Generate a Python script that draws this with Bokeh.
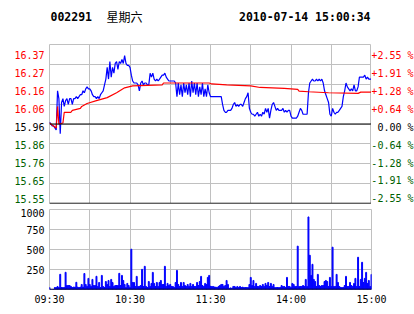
from bokeh.plotting import figure
from bokeh.models import FixedTicker, Span, Range1d
from bokeh.layouts import column, row
from bokeh.embed import file_html
from bokeh.resources import INLINE
from bokeh.core.properties import value

# ---------------- data ----------------
stock_code = "002291"
weekday = "星期六"
timestamp = "2010-07-14 15:00:34"
prev_close = 15.96

pct_levels = [2.55, 1.91, 1.28, 0.64, 0.00, -0.64, -1.28, -1.91, -2.55]
price_labels = ["16.37", "16.27", "16.16", "16.06", "15.96", "15.86", "15.76", "15.65", "15.55"]
pct_labels = ["+2.55 %", "+1.91 %", "+1.28 %", "+0.64 %", "0.00 %", "-0.64 %", "-1.28 %", "-1.91 %", "-2.55 %"]

time_ticks = [0, 60, 120, 180, 240]
time_labels = ["09:30", "10:30", "11:30", "14:00", "15:00"]
time_grid = [30, 60, 90, 120, 150, 180, 210]
vol_ticks = [250, 500, 750, 1000]

price = [
    15.97, 15.96, 15.95, 15.95, 15.94, 15.93, 16.13, 16.09, 15.91, 16.07,
    16.09, 16.05, 16.08, 16.09, 16.06, 16.09, 16.09, 16.06, 16.09, 16.09,
    16.10, 16.09, 16.10, 16.11, 16.11, 16.13, 16.12, 16.14, 16.15, 16.14,
    16.14, 16.13, 16.11, 16.10, 16.10, 16.09, 16.10, 16.09, 16.11, 16.12,
    16.13, 16.16, 16.19, 16.25, 16.19, 16.28, 16.20, 16.25, 16.22, 16.27,
    16.28, 16.24, 16.28, 16.27, 16.29, 16.27, 16.31, 16.27, 16.26, 16.26,
    16.25, 16.21, 16.18, 16.17, 16.17, 16.17, 16.16, 16.13, 16.17, 16.18,
    16.16, 16.17, 16.17, 16.16, 16.16, 16.22, 16.20, 16.22, 16.19, 16.18,
    16.19, 16.18, 16.19, 16.20, 16.21, 16.21, 16.22, 16.20, 16.19, 16.18,
    16.18, 16.18, 16.18, 16.18, 16.17, 16.10, 16.17, 16.11, 16.16, 16.10,
    16.17, 16.12, 16.16, 16.11, 16.17, 16.10, 16.18, 16.12, 16.17, 16.11,
    16.17, 16.10, 16.15, 16.11, 16.17, 16.10, 16.14, 16.10, 16.16, 16.12,
    16.10, 16.10, 16.10, 16.10, 16.10, 16.10, 16.10, 16.10, 16.10, 16.06,
    16.03, 16.02, 16.02, 16.03, 16.03, 16.03, 16.04, 16.06, 16.07, 16.05,
    16.06, 16.05, 16.06, 16.06, 16.05, 16.07, 16.09, 16.10, 16.12, 16.04,
    16.02, 16.01, 16.01, 16.00, 16.01, 16.02, 16.00, 16.01, 16.00, 16.02,
    16.01, 16.04, 16.02, 16.04, 15.99, 16.03, 16.06, 16.07, 16.05, 16.03,
    16.04, 16.03, 16.03, 16.03, 16.04, 16.02, 16.03, 16.02, 16.03, 16.03,
    16.00, 15.99, 15.99, 15.99, 15.99, 16.00, 16.02, 16.04, 16.03, 16.01,
    16.01, 16.01, 16.01, 16.12, 16.17, 16.18, 16.19, 16.18, 16.18, 16.19,
    16.18, 16.19, 16.18, 16.19, 16.17, 16.13, 16.11, 16.09, 16.07, 16.01,
    16.00, 16.04, 16.02, 16.01, 16.02, 16.02, 16.03, 16.04, 16.05, 16.10,
    16.13, 16.17, 16.15, 16.14, 16.13, 16.14, 16.13, 16.16, 16.13, 16.13,
    16.15, 16.20, 16.20, 16.20, 16.20, 16.21, 16.19, 16.20, 16.19, 16.19,
    16.19,
]

avg_minutes = [0, 3, 5, 6, 7, 10, 11, 16, 17, 23, 24, 28, 35, 43, 50, 56, 62, 84, 85,
               119, 121, 132, 150, 157, 175, 185, 186, 193, 208, 230, 232, 240]
avg_price = [15.965, 15.95, 15.94, 16.05, 15.96, 15.965, 16.02, 16.02, 16.03, 16.04, 16.05,
             16.065, 16.08, 16.095, 16.12, 16.145, 16.155, 16.16, 16.17,
             16.17, 16.165, 16.16, 16.155, 16.147, 16.142, 16.137, 16.128, 16.125,
             16.12, 16.117, 16.123, 16.123]

volume = [
    25, 0, 0, 0, 25, 25, 38, 25, 190, 25,
    25, 25, 215, 50, 50, 50, 38, 25, 30, 30,
    90, 30, 25, 30, 63, 30, 200, 63, 38, 139,
    63, 38, 126, 50, 50, 165, 38, 88, 25, 176,
    38, 25, 100, 63, 113, 38, 126, 88, 38, 50,
    50, 50, 202, 50, 176, 113, 63, 25, 76, 50,
    25, 504, 88, 88, 38, 164, 38, 38, 50, 252,
    38, 290, 38, 25, 100, 38, 76, 214, 76, 38,
    88, 38, 88, 113, 63, 63, 290, 38, 76, 50,
    63, 38, 38, 25, 88, 239, 63, 38, 88, 38,
    88, 50, 38, 63, 38, 76, 38, 63, 38, 38,
    88, 50, 100, 164, 50, 38, 76, 63, 151, 176,
    40, 38, 38, 30, 30, 25, 38, 50, 63, 63,
    38, 50, 113, 63, 15, 20, 15, 38, 38, 25,
    38, 25, 38, 25, 30, 25, 25, 25, 25, 63,
    151, 50, 113, 38, 76, 38, 38, 50, 38, 63,
    38, 76, 50, 88, 38, 76, 38, 63, 25, 25,
    25, 25, 25, 50, 38, 38, 25, 151, 38, 38,
    25, 76, 63, 38, 38, 542, 38, 38, 38, 50,
    38, 126, 38, 907, 428, 176, 315, 126, 100, 38,
    189, 50, 38, 50, 50, 100, 113, 100, 38, 151,
    38, 529, 38, 38, 189, 88, 38, 25, 25, 25,
    50, 164, 38, 38, 88, 50, 38, 76, 139, 38,
    403, 38, 126, 340, 88, 139, 214, 76, 113, 38,
    189,
]
minutes = list(range(len(price)))

# ---------------- styles / geometry ----------------
GRID = "#C0C0C0"
RED = "#FF0000"
GREEN = "#006000"
BLUE = "#0000FF"
MONO = "DejaVu Sans Mono"
LEFT_W, PLOT_W, RIGHT_W = 49, 322, 43
HEAD_H, PRICE_H, VOL_H = 32, 176, 106
PRICE_TOP, PRICE_BOTTOM = 12, 5          # borders around the price frame

level_prices = [prev_close * (1 + q / 100) for q in pct_levels]
label_colors = [RED if q > 0 else ("black" if q == 0 else GREEN) for q in pct_levels]

x_range = Range1d(0, 240)
y_lo, y_hi = min(level_prices), max(level_prices)
y_range = Range1d(y_lo, y_hi)
# label columns use the same scale, extended over the full panel height
ppp = (y_hi - y_lo) / (PRICE_H - PRICE_TOP - PRICE_BOTTOM)
label_range = Range1d(y_lo - PRICE_BOTTOM * ppp, y_hi + PRICE_TOP * ppp)


def bare(width, height, xr, yr, **kw):
    f = figure(width=width, height=height, x_range=xr, y_range=yr,
               x_axis_location=None, y_axis_location=None,
               toolbar_location=None, output_backend="svg", **kw)
    f.grid.visible = False
    f.outline_line_color = None
    f.background_fill_color = "white"
    f.border_fill_color = "white"
    return f


# ---------------- header ----------------
head = bare(LEFT_W + PLOT_W + RIGHT_W, HEAD_H, x_range, Range1d(0, 1),
            min_border_left=LEFT_W, min_border_right=RIGHT_W, min_border_top=0, min_border_bottom=0)
head.text(x=[x_range.start], y=[0.5], text=[stock_code], text_font=value(MONO),
          text_font_style="bold", text_font_size="11.5px", text_baseline="middle",
          text_align="left", x_offset=1, text_color="black")
head.text(x=[x_range.start], y=[0.5], text=[weekday], text_font=value("Noto Sans CJK SC"),
          text_font_size="12px", text_baseline="middle", text_align="left",
          x_offset=57, text_color="black")
head.text(x=[x_range.end], y=[0.5], text=[timestamp], text_font=value(MONO),
          text_font_style="bold", text_font_size="11.5px", text_baseline="middle",
          text_align="right", x_offset=-1, text_color="black")

# ---------------- price chart ----------------
p = figure(width=PLOT_W, height=PRICE_H, x_range=x_range, y_range=y_range,
           x_axis_location=None, y_axis_location=None,
           toolbar_location=None, output_backend="svg",
           min_border_left=0, min_border_right=0,
           min_border_top=PRICE_TOP, min_border_bottom=PRICE_BOTTOM)
p.outline_line_color = GRID
p.background_fill_color = "white"
p.border_fill_color = "white"
p.xgrid.ticker = FixedTicker(ticks=time_grid)
p.ygrid.ticker = FixedTicker(ticks=level_prices)
p.xgrid.grid_line_color = GRID
p.ygrid.grid_line_color = GRID

p.line(minutes, price, line_color=BLUE, line_width=1.2)
p.line(avg_minutes, avg_price, line_color=RED, line_width=1.2)
p.add_layout(Span(location=prev_close, dimension="width", line_color="black", line_width=1.2))
p.add_layout(Span(location=y_lo, dimension="width", line_color="black", line_width=1.5))

# left price labels
lp = bare(LEFT_W, PRICE_H, Range1d(0, 1), label_range,
          min_border_left=0, min_border_right=0, min_border_top=0, min_border_bottom=0)
lp.text(x=[1] * len(level_prices), y=level_prices, text=price_labels,
        text_color=label_colors, text_align="right", text_baseline="middle",
        x_offset=-5, text_font=value(MONO), text_font_size="10px")

# right percentage labels
rp = bare(RIGHT_W, PRICE_H, Range1d(0, 1), label_range,
          min_border_left=0, min_border_right=0, min_border_top=0, min_border_bottom=0)
rp.text(x=[1] * len(level_prices), y=level_prices, text=pct_labels,
        text_color=label_colors, text_align="right", text_baseline="middle",
        x_offset=-1, text_font=value(MONO), text_font_size="10px")

# ---------------- volume chart ----------------
v = figure(width=LEFT_W + PLOT_W + RIGHT_W, height=VOL_H, x_range=x_range, y_range=Range1d(0, 1000),
           toolbar_location=None, output_backend="svg",
           min_border_left=LEFT_W, min_border_right=RIGHT_W, min_border_top=1, min_border_bottom=25)
v.outline_line_color = GRID
v.background_fill_color = "white"
v.border_fill_color = "white"
v.vbar(x=minutes, top=volume, width=0.7, color=BLUE)
v.xgrid.ticker = FixedTicker(ticks=time_grid)
v.ygrid.ticker = FixedTicker(ticks=vol_ticks)
v.xgrid.grid_line_color = GRID
v.ygrid.grid_line_color = GRID
v.add_layout(Span(location=0, dimension="width", line_color="black", line_width=1.5))

v.xaxis.ticker = FixedTicker(ticks=time_ticks)
v.xaxis.major_label_overrides = {t: lab for t, lab in zip(time_ticks, time_labels)}
v.yaxis.ticker = FixedTicker(ticks=vol_ticks)
for ax in (v.xaxis[0], v.yaxis[0]):
    ax.axis_line_color = None
    ax.major_tick_line_color = None
    ax.minor_tick_line_color = None
    ax.major_tick_out = 0
    ax.major_tick_in = 0
    ax.minor_tick_out = 0
    ax.minor_tick_in = 0
    ax.major_label_text_font = MONO
    ax.major_label_text_font_size = "10px"
    ax.major_label_text_color = "black"
v.xaxis[0].major_label_standoff = 4
v.yaxis[0].major_label_standoff = 5

layout = column(head, row(lp, p, rp, spacing=0), v, spacing=0)
open("out.html", "w").write(file_html(layout, INLINE))
